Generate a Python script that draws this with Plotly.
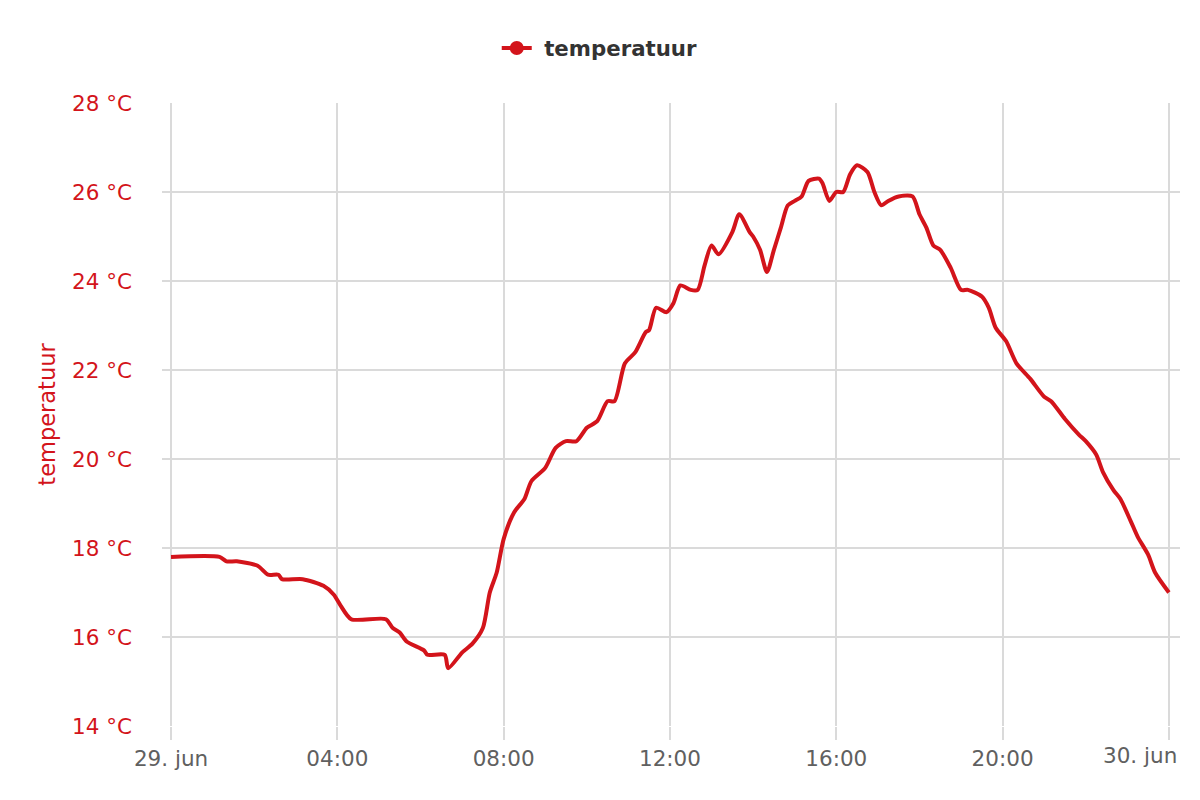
import pandas as pd
import plotly.graph_objects as go

# temperature readings, 29 June (times as HH:MM from midnight)
times = ["00:00", "01:10", "01:20", "01:35", "02:05", "02:20", "02:35", "02:40",
         "03:10", "03:40", "03:55", "04:05", "04:20", "05:10", "05:20", "05:30",
         "05:40", "06:05", "06:10", "06:35", "06:40", "07:00", "07:15", "07:30",
         "07:40", "07:50", "08:00", "08:15", "08:30", "08:40", "09:00", "09:15",
         "09:30", "09:45", "10:00", "10:15", "10:30", "10:40", "10:55", "11:10",
         "11:25", "11:30", "11:40", "11:55", "12:05", "12:15", "12:30", "12:40",
         "12:50", "13:00", "13:10", "13:30", "13:40", "13:55", "14:00", "14:10",
         "14:20", "14:30", "14:40", "14:50", "15:00", "15:10", "15:20", "15:35",
         "15:40", "15:50", "16:00", "16:10", "16:20", "16:30", "16:45", "16:55",
         "17:05", "17:15", "17:30", "17:50", "18:00", "18:10", "18:20", "18:30",
         "18:45", "19:00", "19:10", "19:30", "19:40", "19:50", "20:05", "20:20",
         "20:40", "21:00", "21:10", "21:30", "21:50", "22:00", "22:15", "22:25",
         "22:40", "22:50", "23:05", "23:15", "23:30", "23:40", "24:00"]
temps = [17.8, 17.8, 17.7, 17.7, 17.6, 17.4, 17.4, 17.3,
         17.3, 17.15, 16.95, 16.7, 16.4, 16.4, 16.2, 16.1,
         15.9, 15.7, 15.6, 15.6, 15.3, 15.65, 15.85, 16.2,
         17.0, 17.45, 18.2, 18.8, 19.1, 19.5, 19.8, 20.25,
         20.4, 20.4, 20.7, 20.85, 21.3, 21.3, 22.15, 22.4,
         22.85, 22.9, 23.4, 23.3, 23.5, 23.9, 23.8, 23.8,
         24.35, 24.8, 24.6, 25.1, 25.5, 25.1, 25.0, 24.7,
         24.2, 24.7, 25.2, 25.7, 25.8, 25.9, 26.25, 26.3,
         26.2, 25.8, 26.0, 26.0, 26.4, 26.6, 26.45, 26.0,
         25.7, 25.8, 25.9, 25.9, 25.5, 25.2, 24.8, 24.7,
         24.3, 23.8, 23.8, 23.65, 23.4, 22.95, 22.65, 22.15,
         21.8, 21.4, 21.3, 20.9, 20.55, 20.4, 20.1, 19.7,
         19.3, 19.1, 18.6, 18.25, 17.85, 17.45, 17.0]

tick_hours = [0, 4, 8, 12, 16, 20, 24]
tick_labels = ["29. jun", "04:00", "08:00", "12:00", "16:00", "20:00", ""]
last_label = "30. jun"
y_ticks = [14, 16, 18, 20, 22, 24, 26, 28]
y_labels = [f"{v} °C" for v in y_ticks]

day = pd.Timestamp("2024-06-29")
x = [day + pd.to_timedelta(t + ":00") for t in times]
tick_vals = [day + pd.Timedelta(hours=h) for h in tick_hours]

RED = "#d3141b"
GRID = "#dadada"
FONT = "DejaVu Sans"

fig = go.Figure()

# the curve itself
fig.add_trace(go.Scatter(
    x=x, y=temps, mode="lines", name="temperatuur", showlegend=False,
    line=dict(color=RED, width=4, shape="spline", smoothing=0.7),
    hoverinfo="x+y"))

# legend entry (line + dot like the original)
fig.add_trace(go.Scatter(
    x=[None], y=[None], mode="lines+markers", name=" temperatuur",
    line=dict(color=RED, width=4),
    marker=dict(color=RED, size=14)))

# last tick label sits left of its tick so it stays inside the page
fig.add_annotation(
    x=tick_vals[-1], y=0, xref="x", yref="paper",
    text=last_label, showarrow=False,
    xanchor="right", yanchor="top", xshift=10, yshift=-15,
    font=dict(family=FONT, size=21.5, color="#606060"))

fig.update_layout(
    width=1192, height=792,
    margin=dict(l=154, r=20, t=95, b=74),
    paper_bgcolor="white", plot_bgcolor="white",
    font=dict(family=FONT, size=21, color="#606060"),
    showlegend=True,
    legend=dict(orientation="h", x=0.43, xanchor="center", y=1.088, yanchor="middle",
                font=dict(family=FONT, size=21.3, color="#333333", weight="bold"),
                itemwidth=30),
)

fig.update_xaxes(
    range=[day - pd.Timedelta(minutes=13), day + pd.Timedelta(hours=24, minutes=16)],
    tickvals=tick_vals, ticktext=tick_labels,
    showgrid=True, gridcolor=GRID, gridwidth=2,
    ticks="outside", ticklen=13, tickcolor=GRID, tickwidth=2,
    tickfont=dict(family=FONT, size=21.5, color="#606060"),
    showline=False, zeroline=False,
)

fig.update_yaxes(
    range=[14, 28], tickvals=y_ticks, ticktext=y_labels,
    showgrid=True, gridcolor=GRID, gridwidth=2,
    ticks="", ticklabelstandoff=29,
    tickfont=dict(family=FONT, size=21.5, color=RED),
    title=dict(text="temperatuur", font=dict(family=FONT, size=22.5, color=RED), standoff=10),
    showline=False, zeroline=False,
)

fig.write_html("out.html")
